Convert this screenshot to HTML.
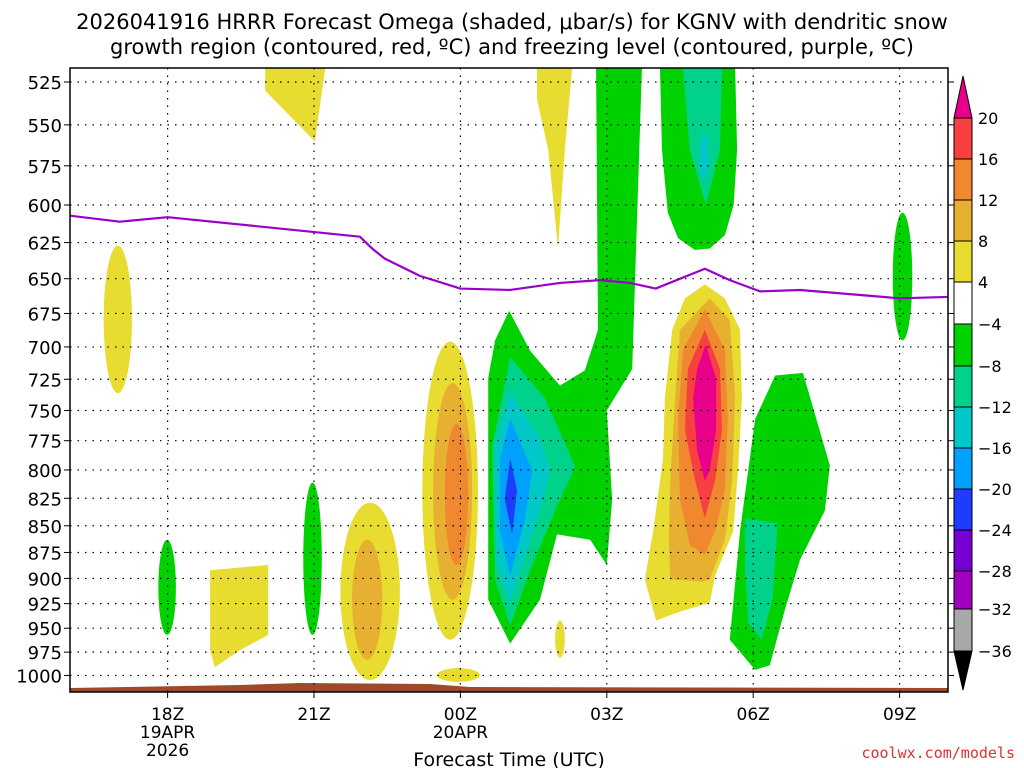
<!DOCTYPE html>
<html><head><meta charset="utf-8"><style>
body{margin:0;background:#fff;width:1024px;height:768px;overflow:hidden;font-family:"Liberation Sans","DejaVu Sans",sans-serif}
svg{display:block}
</style></head><body>
<svg id="chart" width="1024" height="768" xmlns="http://www.w3.org/2000/svg">
<text x="512" y="29" text-anchor="middle" font-size="21" font-family="DejaVu Sans, sans-serif">2026041916 HRRR Forecast Omega (shaded, μbar/s) for KGNV with dendritic snow</text>
<text x="512" y="54" text-anchor="middle" font-size="21" font-family="DejaVu Sans, sans-serif">growth region (contoured, red, ºC) and freezing level (contoured, purple, ºC)</text>
<text x="509" y="766" text-anchor="middle" font-size="19" font-family="DejaVu Sans, sans-serif">Forecast Time (UTC)</text>
<text x="1015" y="758" text-anchor="end" font-size="15" fill="#e03030" font-family="DejaVu Sans Mono, monospace">coolwx.com/models</text>
<g id="plot"></g>
</svg>
<script>
// axis data
const pressureTicks=[525,550,575,600,625,650,675,700,725,750,775,800,825,850,875,900,925,950,975,1000];
const timeTickHours=[2,5,8,11,14,17];
const timeTickLabels=["18Z","21Z","00Z","03Z","06Z","09Z"];
const timeTickSub=[["19APR","2026"],[],["20APR"],[],[],[]];
// freezing level
const fzHours=[0,1.02,2,5.94,6.19,6.45,7.17,8,9.02,10.04,10.86,11.48,12,13.01,13.52,14.14,14.96,15.98,17,18];
const fzPress=[607,611,608,621,629,636,648,657,658,653,651,653,657,643,651,659,658,661,664,663];
// colorbar
const cbLevels=["20","16","12","8","4","−4","−8","−12","−16","−20","−24","−28","−32","−36"];
const cbColors=["#f84040","#f08830","#e8b030","#e8dc30","#ffffff","#00d200","#00d28c","#00c8c8","#00a0ff","#1e3cff","#7800d2","#a000c0","#a8a8a8"];
// shaded omega blobs: [centerHour, halfWidthHours, pTop, pBottom, color]
const blobs=[
 [0.98,0.29,627,736,"#e8dc30"],
 [6.15,0.61,829,1005,"#e8dc30"],[6.09,0.31,863,983,"#e8b030"],
 [7.79,0.57,696,962,"#e8dc30"],[7.84,0.40,728,921,"#e8b030"],[7.92,0.24,761,887,"#f08830"],
 [7.96,0.44,992,1007,"#e8dc30"],[10.04,0.1,942,981,"#e8dc30"],
 [1.99,0.18,863,957,"#00d200"],[4.97,0.19,811,957,"#00d200"],[17.06,0.2,605,695,"#00d200"],
 [12.99,0.1,555,583,"#00c8c8"]
];
// polygons: hours & pressures
const polyTopYellowA={h:[4.0,5.23,5.02,4.0],p:[517,517,560,530],c:"#e8dc30"};
const polyTopYellowB={h:[9.57,10.29,10.14,10.0,9.8,9.57],p:[517,517,565,629,565,535],c:"#e8dc30"};
const polyYellowBox={h:[2.87,4.06,4.06,3.48,2.97,2.87],p:[892,887,957,973,991,973],c:"#e8dc30"};
const polyGreenBig={h:[10.78,11.72,11.52,11.0,11.11,11.0,10.66,9.98,9.63,9.02,8.57,8.57,8.71,9.0,9.43,10.04,10.55,10.82],
 p:[517,517,717,750,826,887,863,858,921,966,921,724,695,673,703,730,718,687],c:"#00d200"};
const polyTealLobe={h:[9.02,9.73,10.35,9.94,9.43,9.02,8.71,8.65],p:[708,740,797,836,892,947,901,780],c:"#00d28c"};
const polyCyanLobe={h:[9.02,9.63,9.84,9.63,9.02,8.73,8.71],p:[735,773,800,836,924,882,780],c:"#00c8c8"};
const polyBlueLobe={h:[9.02,9.47,9.32,9.02,8.81,8.81],p:[757,800,845,897,855,791],c:"#00a0ff"};
const polyDarkBlueLobe={h:[9.02,9.16,9.06,8.91],p:[790,818,858,826],c:"#1e3cff"};
const polyGreenTop={h:[12.09,13.63,13.67,13.6,13.42,13.11,12.8,12.46,12.25,12.13],p:[517,517,565,600,620,629,630,622,605,565],c:"#00d200"};
const polyTealTop={h:[12.56,13.36,13.32,13.03,12.7],p:[517,517,565,600,565],c:"#00d28c"};
const polyGreenRight={h:[14.04,14.45,15.02,15.57,15.47,14.96,14.65,14.34,14.04,13.52,13.73],
 p:[757,722,720,796,836,882,931,989,994,962,855],c:"#00d200"};
const polyTealRight={h:[13.83,14.5,14.4,14.17,13.9,13.83],p:[843,848,920,962,945,890],c:"#00d28c"};
// right-side positive omega core (nested levels)
const polyPos4={h:[13.01,13.42,13.73,13.77,13.69,13.59,13.22,13.11,12.5,12.01,11.78,11.95,12.15,12.19,12.34,12.6],
 p:[654,664,687,740,800,855,897,924,933,942,901,855,791,740,687,664],c:"#e8dc30"};
const polyPos8={h:[13.11,13.52,13.63,13.57,13.42,13.11,12.95,12.3,12.27,12.3,12.4,12.5],
 p:[664,680,740,809,863,901,903,901,863,809,740,687],c:"#e8b030"};
const polyPos12={h:[13.01,13.42,13.48,13.42,13.22,13.01,12.7,12.5,12.46,12.56],
 p:[672,702,757,818,855,877,868,826,757,702],c:"#f08830"};
const polyPos16={h:[13.01,13.32,13.36,13.22,13.01,12.81,12.6,12.66],p:[687,717,766,809,843,809,766,717],c:"#f84040"};
const polyPos20={h:[13.03,13.24,13.24,13.11,13.01,12.85,12.77,12.85],p:[698,725,766,800,810,783,740,717],c:"#e8008a"};

const L=70,R=948,T=68,B=692;
const x=h=>L+h*48.8;
const y=p=>82+921*Math.log(p/525);
const NS="http://www.w3.org/2000/svg";
const svg=document.getElementById('chart');
const g=document.getElementById('plot');
function mk(tag,attrs,parent){const e=document.createElementNS(NS,tag);for(const k in attrs)e.setAttribute(k,attrs[k]);(parent||g).appendChild(e);return e;}
const defs=mk('defs',{},svg);
const cp=mk('clipPath',{id:'clip'},defs);mk('rect',{x:L,y:T,width:R-L,height:B-T},cp);
const shade=mk('g',{'clip-path':'url(#clip)'});


function poly(o,name){const pts=o.h.map((h,i)=>x(h)+','+y(o.p[i])).join(' ');const e=mk('polygon',{points:pts,fill:o.c,'stroke-linejoin':'round'},shade);

}
poly(polyGreenBig,'green-omega-region');
poly(polyTealLobe,'teal-omega-lobe');
poly(polyCyanLobe,'cyan-omega-lobe');
poly(polyBlueLobe,'blue-omega-lobe');
poly(polyDarkBlueLobe,'darkblue-omega-lobe');
poly(polyGreenTop,'green-omega-top');
poly(polyTealTop,'teal-omega-top');
poly(polyGreenRight,'green-omega-region-right');
poly(polyTealRight,'teal-omega-region-right');
poly(polyTopYellowA,'yellow-omega-top-a');
poly(polyTopYellowB,'yellow-omega-top-b');
poly(polyYellowBox,'yellow-omega-box');
poly(polyPos4,'positive-omega-4');
poly(polyPos8,'positive-omega-8');
poly(polyPos12,'positive-omega-12');
poly(polyPos16,'positive-omega-16');
poly(polyPos20,'positive-omega-20');
blobs.forEach(b=>{const cx=x(b[0]),rx=b[1]*48.8,y1=y(b[2]),y2=y(b[3]);
const e=mk('ellipse',{cx:cx,cy:(y1+y2)/2,rx:rx,ry:(y2-y1)/2,fill:b[4]},shade);

});
// ground
const gr=mk('polygon',{points:`${L},${B} ${L},688 240,685 300,683 430,684 470,687 ${R},688 ${R},${B}`,fill:'#9c4a28'},shade);


// grid
pressureTicks.forEach(p=>{const yy=y(p);
const l=mk('line',{x1:L,x2:R,y1:yy,y2:yy,stroke:'#000','stroke-width':1.2,'stroke-dasharray':'1.5,6'});


mk('line',{x1:L-6,x2:L,y1:yy,y2:yy,stroke:'#000'});mk('line',{x1:R,x2:R+6,y1:yy,y2:yy,stroke:'#000'});
const t=mk('text',{x:L-8,y:yy+7,'text-anchor':'end','font-size':18,'font-family':'DejaVu Sans, sans-serif'});t.textContent=p;

});
timeTickHours.forEach((h,i)=>{const xx=x(h);
const l=mk('line',{x1:xx,x2:xx,y1:T,y2:B,stroke:'#000','stroke-width':1.2,'stroke-dasharray':'1.5,6'});


mk('line',{x1:xx,x2:xx,y1:B,y2:B+6,stroke:'#000'});
const t=mk('text',{x:xx,y:720,'text-anchor':'middle','font-size':17,'font-family':'DejaVu Sans, sans-serif'});t.textContent=timeTickLabels[i];


timeTickSub[i].forEach((s,j)=>{const u=mk('text',{x:xx,y:738+18*j,'text-anchor':'middle','font-size':17,'font-family':'DejaVu Sans, sans-serif'});u.textContent=s;

});});
// freezing level
const fz=mk('polyline',{points:fzHours.map((h,i)=>x(h)+','+y(fzPress[i])).join(' '),fill:'none',stroke:'#9a00c8','stroke-width':2.2,'stroke-linejoin':'round'},shade);


const fr=mk('rect',{x:L,y:T,width:R-L,height:B-T,fill:'none',stroke:'#000','stroke-width':1.5});


// colorbar
const cb=mk('g',{},svg);


const cbY=[118,159,200,241,282,324,366,407,448,489,530,571,609,651];
const cx0=954,cx1=972;
mk('polygon',{points:`${cx0},${cbY[0]} ${(cx0+cx1)/2},76 ${cx1},${cbY[0]}`,fill:'#e8008a',stroke:'#000'},cb);
cbColors.forEach((c,i)=>{mk('rect',{x:cx0,y:cbY[i],width:cx1-cx0,height:cbY[i+1]-cbY[i],fill:c,stroke:'#000'},cb);});
mk('polygon',{points:`${cx0},${cbY[13]} ${(cx0+cx1)/2},690 ${cx1},${cbY[13]}`,fill:'#000',stroke:'#000'},cb);
cbLevels.forEach((s,i)=>{const t=mk('text',{x:978,y:cbY[i]+6,'font-size':16,'font-family':'DejaVu Sans, sans-serif'},cb);t.textContent=s;

});
</script>
</body></html>
